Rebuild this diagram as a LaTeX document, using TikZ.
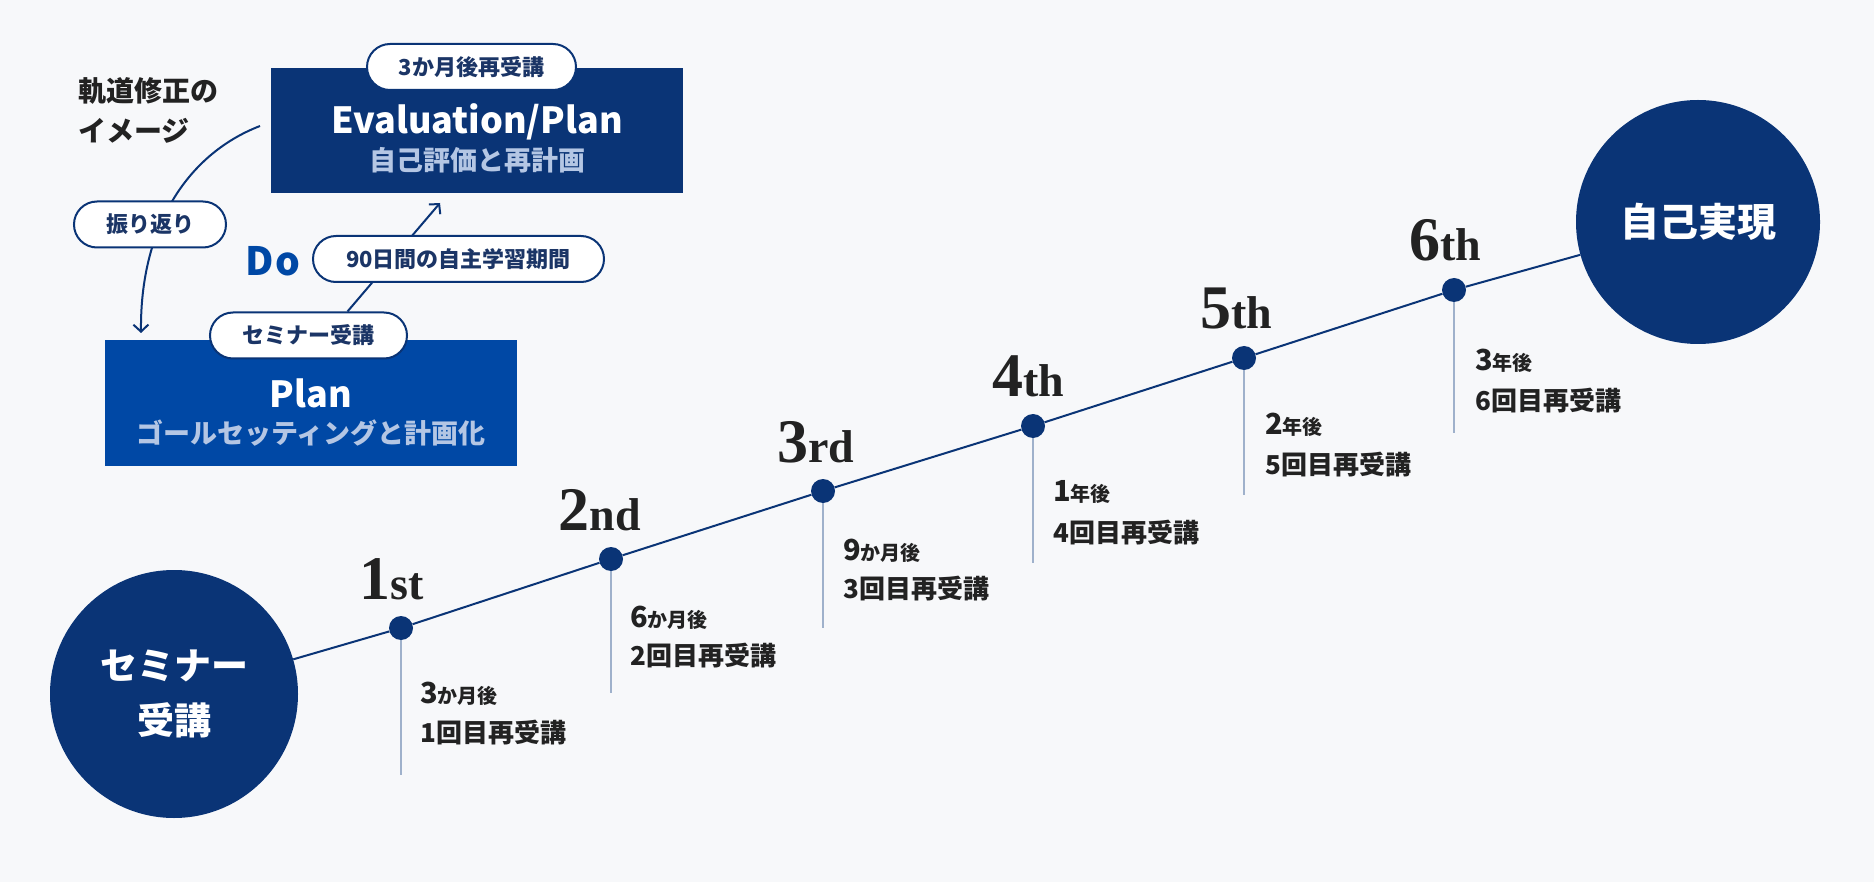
\documentclass[tikz,border=0pt]{standalone}
\usepackage{fontspec}
\newfontfamily\jp{Noto Sans CJK JP}
\newfontfamily\ordfont{Liberation Serif}
\usepackage{tikz}
\usetikzlibrary{calc, arrows.meta}
\pgfdeclarelayer{back}
\pgfsetlayers{back,main}
\definecolor{bgcol}{HTML}{F7F8FA}
\definecolor{navy}{HTML}{0A3476}
\definecolor{planblue}{HTML}{0048A5}
\definecolor{pillink}{HTML}{1B3566}
\definecolor{subcol}{HTML}{B4C6E4}
\definecolor{dropcol}{HTML}{9FB1CB}
\definecolor{ink}{HTML}{222222}
\newcommand\fsz[1]{\fontsize{#1}{#1}\selectfont}
\newcommand\bignum[1]{{\fsz{29}#1}}
\newcommand\sufx[1]{{\fsz{46}#1}}

\begin{document}
\begin{tikzpicture}[x=1pt, y=-1pt, >={Straight Barb[length=7pt,width=15pt]}]
\tikzset{every node/.style={font=\jp\bfseries, inner sep=0pt},
  box/.style={rectangle, minimum width=412pt, minimum height=125pt},
  boxtitle/.style={text=white, font=\jp\bfseries\fsz{36}},
  boxsub/.style={text=subcol, font=\jp\bfseries\fsz{27}},
  pill/.style={rectangle, rounded corners=23pt, draw=navy, line width=2pt, fill=white, minimum height=46pt, text=pillink, font=\jp\bfseries\fsz{22}},
  bigdot/.style={circle, fill=navy, minimum size=248pt, text=white, align=center},
  dot/.style={circle, fill=navy, minimum size=24pt},
  ord/.style={anchor=base, text=ink, font=\ordfont\bfseries\fsz{62}},
  when/.style={anchor=west, text=ink, font=\jp\bfseries\fsz{20}},
  what/.style={anchor=west, text=ink, font=\jp\bfseries\fsz{26}},
  conn/.style={draw=navy, line width=2pt},
  drop/.style={draw=dropcol, line width=1.6pt}}

\useasboundingbox (0,0) rectangle (1874,882);
\begin{pgfonlayer}{back}
\fill[bgcol] (0,0) rectangle (1874,882);
\end{pgfonlayer}

% cycle
\node[align=left, anchor=west, text=ink, font=\jp\bfseries\fontsize{28}{40}\selectfont] (cap) at (78,110) {軌道修正の\\イメージ};
\node[box, fill=navy] (E) at (477,130.5) {};
\node[boxtitle] (ET) at ([yshift=8.5pt]E.center) {Evaluation/Plan};
\node[boxsub] (ES) at ([yshift=-29.5pt]E.center) {自己評価と再計画};
\node[pill, minimum width=209pt] (EP) at (471.5,67) {3か月後再受講};
\node[box, fill=planblue] (P) at (311,403) {};
\node[boxtitle] (PT) at ([yshift=10pt]P.center) {Plan};
\node[boxsub] (PS) at ([yshift=-30pt]P.center) {ゴールセッティングと計画化};
\node[pill, minimum width=197pt] (PP) at (308.5,335.5) {セミナー受講};
\node[pill, minimum width=152pt] (RP) at (150,224.5) {振り返り};
\node[pill, minimum width=291pt] (DP) at (458.5,259) {90日間の自主学習期間};
\node[text=planblue, font=\jp\bfseries\fsz{39}] (Do) at (273,261) {D\kern2pt o};

\coordinate (R0) at (260,126);
\coordinate (R9) at (141,333);
\coordinate (A0) at ([xshift=39pt]PP.north);
\coordinate (A9) at (440,203);

% timeline
\node[bigdot, font=\jp\bfseries\fontsize{37}{55}\selectfont] (S) at (174,694) {セミナー\\受講};
\node[bigdot, minimum size=244pt, font=\jp\bfseries\fsz{39}] (G) at (1698,222) {自己実現};
\node[dot] (D1) at (401,628) {};
\node[dot] (D2) at (611,559) {};
\node[dot] (D3) at (823,491) {};
\node[dot] (D4) at (1033,426) {};
\node[dot] (D5) at (1244,358) {};
\node[dot] (D6) at (1454,290) {};
\coordinate (B1) at ([yshift=-147pt]D1.center);
\coordinate (B2) at ([yshift=-134pt]D2.center);
\coordinate (B3) at ([yshift=-137pt]D3.center);
\coordinate (B4) at ([yshift=-137pt]D4.center);
\coordinate (B5) at ([yshift=-137pt]D5.center);
\coordinate (B6) at ([yshift=-143pt]D6.center);

\node[ord] (O1) at ([xshift=-9pt,yshift=29pt]D1.center) {1\sufx{st}};
\node[ord] (O2) at ([xshift=-11pt,yshift=29pt]D2.center) {2\sufx{nd}};
\node[ord] (O3) at ([xshift=-7pt,yshift=29pt]D3.center) {3\sufx{rd}};
\node[ord] (O4) at ([xshift=-5pt,yshift=29pt]D4.center) {4\sufx{th}};
\node[ord] (O5) at ([xshift=-8pt,yshift=29pt]D5.center) {5\sufx{th}};
\node[ord] (O6) at ([xshift=-9pt,yshift=29pt]D6.center) {6\sufx{th}};

\node[when] (W1) at ([xshift=19pt,yshift=-66pt]D1.center) {\bignum{3}か月後};
\node[what] (T1) at ([xshift=19pt,yshift=-105pt]D1.center) {1回目再受講};
\node[when] (W2) at ([xshift=19pt,yshift=-59pt]D2.center) {\bignum{6}か月後};
\node[what] (T2) at ([xshift=19pt,yshift=-97pt]D2.center) {2回目再受講};
\node[when] (W3) at ([xshift=20pt,yshift=-60pt]D3.center) {\bignum{9}か月後};
\node[what] (T3) at ([xshift=20pt,yshift=-98pt]D3.center) {3回目再受講};
\node[when] (W4) at ([xshift=20pt,yshift=-66pt]D4.center) {\bignum{1}年後};
\node[what] (T4) at ([xshift=20pt,yshift=-107pt]D4.center) {4回目再受講};
\node[when] (W5) at ([xshift=21pt,yshift=-67pt]D5.center) {\bignum{2}年後};
\node[what] (T5) at ([xshift=21pt,yshift=-107pt]D5.center) {5回目再受講};
\node[when] (W6) at ([xshift=21pt,yshift=-71pt]D6.center) {\bignum{3}年後};
\node[what] (T6) at ([xshift=21pt,yshift=-111pt]D6.center) {6回目再受講};

\begin{pgfonlayer}{back}
\draw[conn, ->] (R0) .. controls ($(R0) + (-75,29)$) and ($(R9) + (-1,-103)$) .. (R9);
\draw[conn, ->] (A0) -- (A9);
\draw[conn] (S) -- (D1) -- (D2) -- (D3) -- (D4) -- (D5) -- (D6) -- (G);
\draw[drop] (D1) -- (B1);
\draw[drop] (D2) -- (B2);
\draw[drop] (D3) -- (B3);
\draw[drop] (D4) -- (B4);
\draw[drop] (D5) -- (B5);
\draw[drop] (D6) -- (B6);
\end{pgfonlayer}

\end{tikzpicture}
\end{document}
